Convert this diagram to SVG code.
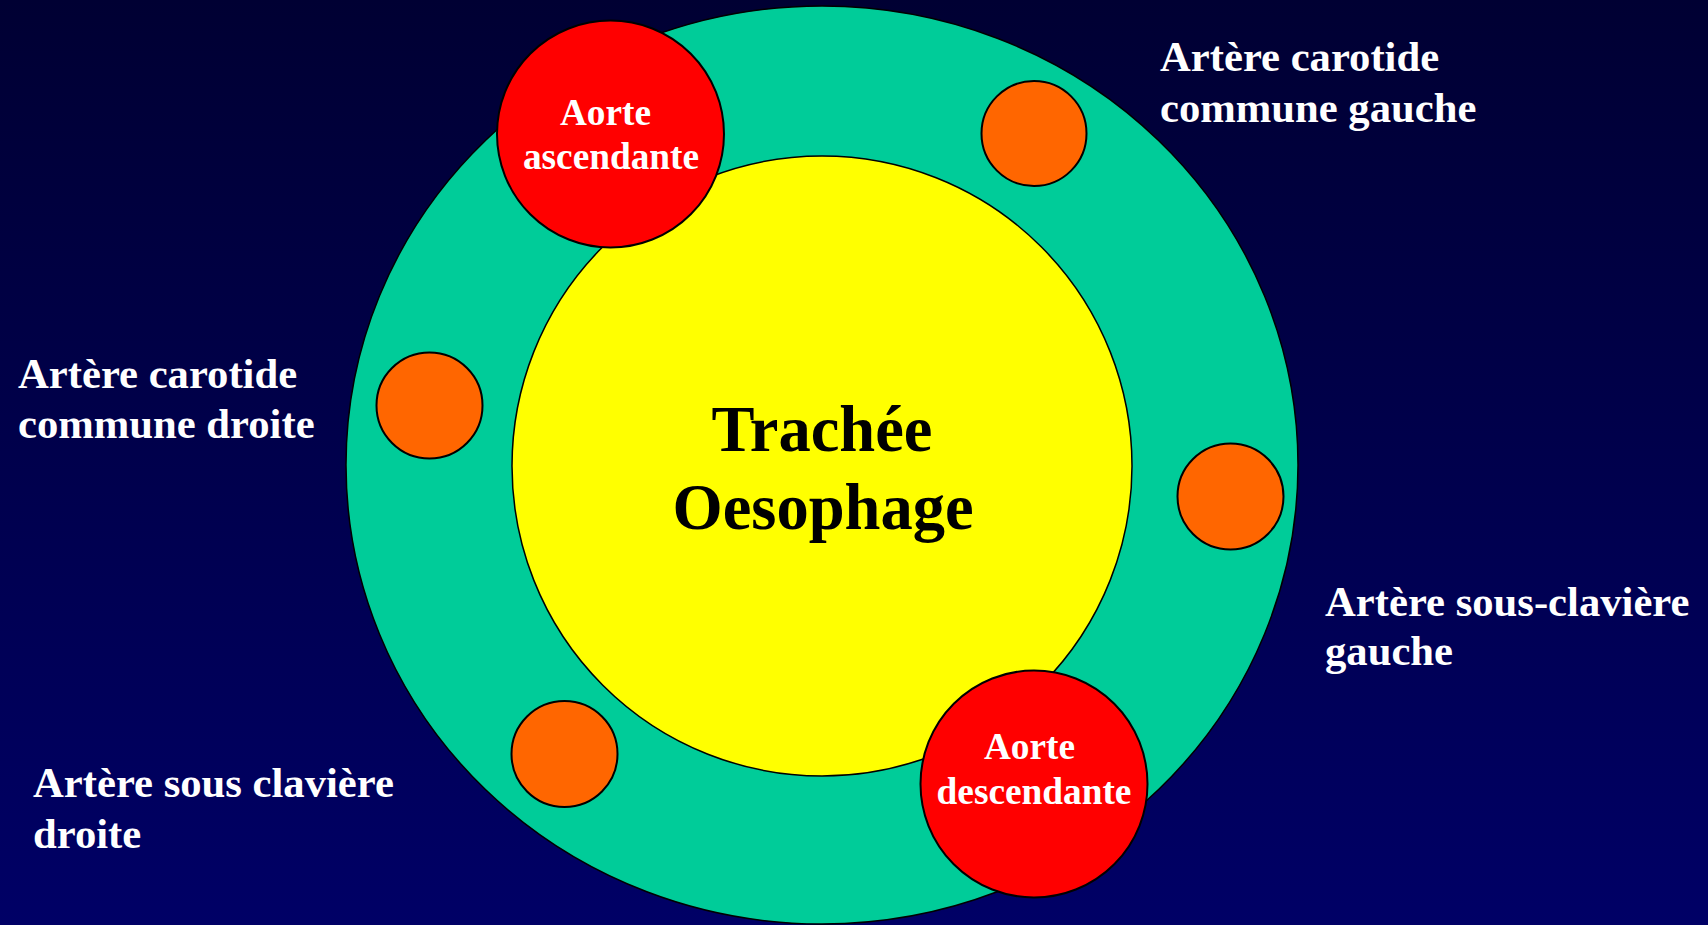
<svg xmlns="http://www.w3.org/2000/svg" width="1708" height="925" viewBox="0 0 1708 925">
  <defs>
    <linearGradient id="bg" x1="0" y1="0" x2="0" y2="1">
      <stop offset="0" stop-color="#000033"/>
      <stop offset="1" stop-color="#000066"/>
    </linearGradient>
  </defs>
  <style>
    .ring { fill: #00CC99; stroke: #000000; stroke-width: 1.5; }
    .core { fill: #FFFF00; stroke: #000000; stroke-width: 1.5; }
    .aorta { fill: #FF0000; stroke: #000000; stroke-width: 2; }
    .artery { fill: #FF6600; stroke: #000000; stroke-width: 2; }
    text { font-family: "Liberation Serif", "Times New Roman", serif; font-weight: bold; }
    .label { fill: #FFFFFF; font-size: 42.67px; }
    .aorta-label { fill: #FFFFFF; font-size: 37.3px; text-anchor: middle; }
    .center-label { fill: #000000; font-size: 64.5px; text-anchor: middle; }
  </style>
  <rect x="0" y="0" width="1708" height="925" fill="url(#bg)"/>

  <g id="ring">
    <ellipse class="ring" cx="822" cy="465" rx="476" ry="459"/>
  </g>
  <g id="trachee-oesophage">
    <circle class="core" cx="822" cy="466" r="310"/>
    <text class="center-label" x="822" y="451">Trachée</text>
    <text class="center-label" x="823" y="529">Oesophage</text>
  </g>
  <g id="aorte-ascendante">
    <circle class="aorta" cx="610.5" cy="134" r="113.5"/>
    <text class="aorta-label" x="605.5" y="125">Aorte</text>
    <text class="aorta-label" x="611" y="169">ascendante</text>
  </g>
  <g id="aorte-descendante">
    <circle class="aorta" cx="1034" cy="784" r="113.5"/>
    <text class="aorta-label" x="1029.5" y="759">Aorte</text>
    <text class="aorta-label" x="1034" y="804">descendante</text>
  </g>
  <g id="carotide-gauche">
    <circle class="artery" cx="1034" cy="133.5" r="52.5"/>
    <text class="label" x="1160" y="71">Artère carotide</text>
    <text class="label" x="1160" y="122">commune gauche</text>
  </g>
  <g id="carotide-droite">
    <circle class="artery" cx="429.5" cy="405.5" r="53"/>
    <text class="label" x="18" y="388">Artère carotide</text>
    <text class="label" x="18" y="438">commune droite</text>
  </g>
  <g id="sous-claviere-gauche">
    <circle class="artery" cx="1230.5" cy="496.5" r="53"/>
    <text class="label" x="1325" y="616">Artère sous-clavière</text>
    <text class="label" x="1325" y="665">gauche</text>
  </g>
  <g id="sous-claviere-droite">
    <circle class="artery" cx="564.5" cy="754" r="53"/>
    <text class="label" x="33" y="797">Artère sous clavière</text>
    <text class="label" x="33" y="848">droite</text>
  </g>
  <g id="connectors"/>
</svg>
